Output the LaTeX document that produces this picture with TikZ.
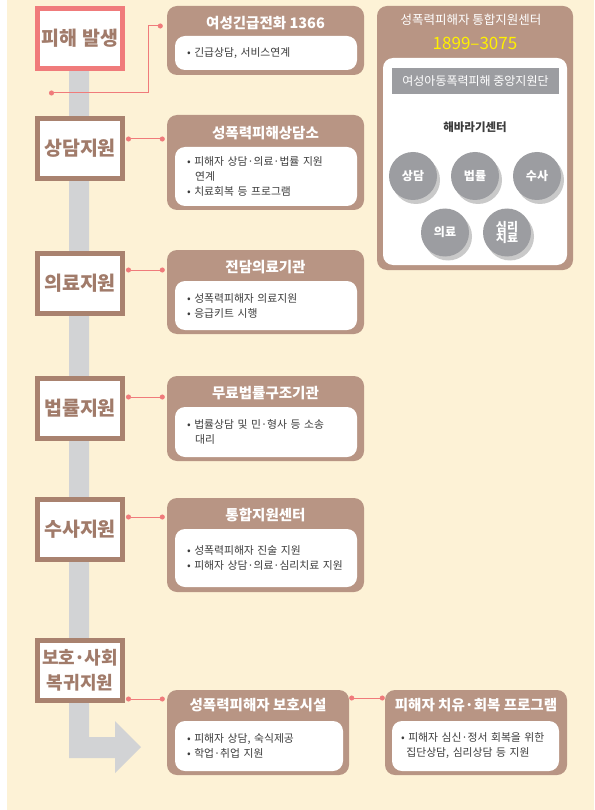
\documentclass[tikz,border=0pt]{standalone}
\usepackage{fontspec}
\setmainfont{Noto Sans CJK KR}
\usepackage{xcolor}
\usetikzlibrary{arrows.meta,shadows}

\definecolor{cream}{HTML}{FDF2D6}
\definecolor{frame}{HTML}{A9826F}
\definecolor{card}{HTML}{B89584}
\definecolor{salmon}{HTML}{F07B7B}
\definecolor{spinegray}{HTML}{D2D3D5}
\definecolor{dotgray}{HTML}{9C9DA1}
\definecolor{ink}{HTML}{3C3C3C}
\definecolor{hotline}{HTML}{FFF100}

\begin{document}
\begin{tikzpicture}[x=1pt, y=-1pt,
  stage/.style={draw=frame, line width=5pt, fill=white, minimum width=85pt, minimum height=60pt, inner sep=0pt, align=center, text=frame!95!black, font=\fontsize{19.5}{26}\selectfont\bfseries},
  card/.style={fill=card, rounded corners=10pt, minimum width=197pt, inner sep=0pt},
  cardtitle/.style={text=white, font=\fontsize{14.5}{16}\selectfont\bfseries, inner sep=0pt},
  cardbody/.style={fill=white, rounded corners=10pt, minimum width=182pt, text width=158pt, inner xsep=12pt, inner ysep=0pt, align=left, text=ink, font=\fontsize{10.8}{15}\selectfont},
  unit/.style={circle, fill=dotgray, minimum size=48pt, inner sep=0pt, align=center, text=white, font=\fontsize{12}{14}\selectfont\bfseries, drop shadow={shadow xshift=3pt, shadow yshift=-4pt, opacity=.35, fill=black!60}},
  link/.style={salmon, line width=1pt, {Circle[length=5pt]}-{Circle[length=5pt]}}
]
\useasboundingbox (0,0) rectangle (594,810);
\fill[cream] (7,0) rectangle (594,810);

% spine with arrow
\fill[spinegray] (69,60) -- (69,758) -- (115,758) -- (115,773) -- (141,747) -- (115,721) -- (115,737) -- (89,737) -- (89,60) -- cycle;

% stages
\node[stage, draw=salmon] (s1) at (80,38.5) {피해 발생};
\node[stage] (s2) at (80,148.5) {상담지원};
\node[stage] (s3) at (80,283.5) {의료지원};
\node[stage] (s4) at (80,408.5) {법률지원};
\node[stage] (s5) at (80,529.5) {수사지원};
\node[stage, font=\fontsize{18}{25}\selectfont\bfseries] (s6) at (80,670.5) {보호{\kern-1pt}·{\kern-1pt}사회\\복귀지원};

% cards
\node[card, minimum height=69pt] (c1) at (265.5,40.5) {};
\node[cardtitle] (c1t) at (265.5,23) {여성긴급전화 1366};
\node[cardbody, minimum height=34pt] (c1b) at (266,53) {• 긴급상담, 서비스연계};

\node[card, minimum height=95pt] (c2) at (265.5,162.5) {};
\node[cardtitle] (c2t) at (265.5,133) {성폭력피해상담소};
\node[cardbody, minimum height=59pt] (c2b) at (266,176.5) {• 피해자 상담·의료·법률 지원\\\hspace*{0.75em}연계\\• 치료회복 등 프로그램};

\node[card, minimum height=84pt] (c3) at (265.5,292) {};
\node[cardtitle] (c3t) at (265.5,267) {전담의료기관};
\node[cardbody, minimum height=49pt] (c3b) at (266,305.5) {• 성폭력피해자 의료지원\\• 응급키트 시행};

\node[card, minimum height=85pt] (c4) at (265.5,418.5) {};
\node[cardtitle] (c4t) at (265.5,393) {무료법률구조기관};
\node[cardbody, minimum height=50pt] (c4b) at (266,432) {• 법률상담 및 민·형사 등 소송\\\hspace*{0.75em}대리};

\node[card, minimum height=94pt] (c5) at (265.5,545) {};
\node[cardtitle] (c5t) at (265.5,515) {통합지원센터};
\node[cardbody, minimum height=58pt] (c5b) at (266,558) {• 성폭력피해자 진술 지원\\• 피해자 상담·의료·심리치료 지원};

\node[card, minimum width=182pt, minimum height=85pt] (c6) at (258,732.5) {};
\node[cardtitle] (c6t) at (258,705) {성폭력피해자 보호시설};
\node[cardbody, minimum width=168pt, text width=144pt, minimum height=50pt] (c6b) at (259,746) {• 피해자 상담, 숙식제공\\• 학업·취업 지원};

\node[card, minimum width=182pt, minimum height=85pt] (c7) at (476,732.5) {};
\node[cardtitle] (c7t) at (476,705) {피해자 치유·회복 프로그램};
\node[cardbody, minimum width=167pt, text width=149pt, inner xsep=9pt, minimum height=50pt] (c7b) at (475.5,746) {• 피해자 심신·정서 회복을 위한\\\hspace*{0.5em}집단상담, 심리상담 등 지원};

% one-stop center
\node[card, minimum width=196pt, minimum height=264pt] (hub) at (475,138) {};
\node[text=white, font=\fontsize{12.5}{14}\selectfont, inner sep=0pt] (hubt) at (471,20) {성폭력피해자 통합지원센터};
\node[text=hotline, font=\fontsize{17}{19}\selectfont, inner sep=0pt] (hubn) at (475,43) {1899–3075};
\node[fill=white, rounded corners=10pt, minimum width=184pt, minimum height=207pt, inner sep=0pt] (hubb) at (475,161.5) {};
\node[fill=dotgray, minimum width=167pt, minimum height=26pt, inner sep=0pt, text=white, font=\fontsize{12}{14}\selectfont] (hubg) at (475.5,81) {여성아동폭력피해 중앙지원단};
\node[text=ink, font=\fontsize{11.5}{13}\selectfont\bfseries, inner sep=0pt] (hubs) at (475,127) {해바라기센터};
\node[unit] (u1) at (413,176) {상담};
\node[unit] (u2) at (475,176) {법률};
\node[unit] (u3) at (537,176) {수사};
\node[unit] (u4) at (445,232.5) {의료};
\node[unit] (u5) at (507,232.5) {심리\\[-3pt]치료};

% connectors
\coordinate (j1) at (49,93);
\draw[link] (j1) -- ++(99,0) |- ([xshift=-4pt]c1.west |- 0,26);
\coordinate (j2) at (0,139);
\coordinate (j3) at (0,270);
\coordinate (j4) at (0,397);
\coordinate (j5) at (0,517);
\coordinate (j6) at (0,699);
\draw[link, shorten <=1pt, shorten >=2pt] (s2.east |- j2) -- (c2.west |- j2);
\draw[link, shorten <=1pt, shorten >=2pt] (s3.east |- j3) -- (c3.west |- j3);
\draw[link, shorten <=1pt, shorten >=2pt] (s4.east |- j4) -- (c4.west |- j4);
\draw[link, shorten <=1pt, shorten >=2pt] (s5.east |- j5) -- (c5.west |- j5);
\draw[link, shorten <=1pt, shorten >=2pt] (s6.east |- j6) -- (c6.west |- j6);
\draw[link] (c6.east |- 0,698) -- (c7.west |- 0,698);
\end{tikzpicture}
\end{document}
